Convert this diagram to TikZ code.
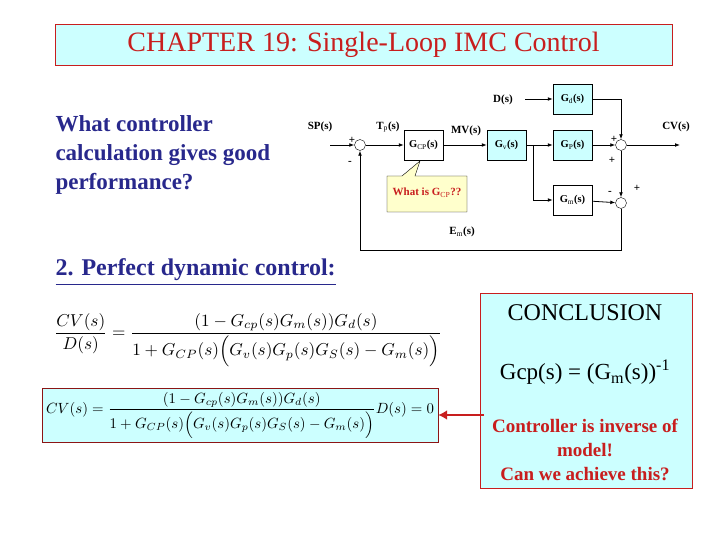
\documentclass[tikz,border=0pt]{standalone}
\usepackage{fontspec}
\setmainfont{Liberation Serif}
\usepackage{amsmath}
\usetikzlibrary{arrows.meta,positioning}
\definecolor{lcyan}{RGB}{204,255,255}
\definecolor{dred}{RGB}{200,30,30}
\definecolor{dblue}{RGB}{40,40,140}
\definecolor{lyel}{RGB}{255,255,204}
\tikzset{
  blk/.style={draw, minimum width=39pt, minimum height=30pt, inner sep=0pt, font=\fontsize{10.5}{12}\selectfont\bfseries},
  cblk/.style={blk, fill=lcyan},
  sumc/.style={draw, circle, minimum size=11pt, inner sep=0pt},
  lbl/.style={font=\fontsize{11}{12}\selectfont\bfseries},
  sig/.style={thick, -{Latex[length=5pt]}},
  wire/.style={thick}
}
\begin{document}
\begin{tikzpicture}[x=1pt,y=-1pt]
\useasboundingbox (0,0) rectangle (720,540);
% title
\node[draw=dred, fill=lcyan, minimum width=617pt, minimum height=41pt, text=dred,
  font=\fontsize{28}{30}\selectfont] (title) at (363.5,44.5) {CHAPTER 19: Single-Loop IMC Control};
\node[anchor=north west, align=left, text=dblue, font=\fontsize{23}{29}\selectfont\bfseries] (ask) at (52,112)
  {What controller\\calculation gives good\\performance?};
% block diagram
\node[sumc] (s1) at (360,145) {};
\node[blk] (gcp) at (423.5,145) {G$_{\mathrm{CP}}$(s)};
\node[cblk] (gv) at (506.5,145) {G$_{\mathrm v}$(s)};
\node[cblk] (gp) at (572.5,145) {G$_{\mathrm P}$(s)};
\node[cblk] (gd) at (572.5,99) {G$_{\mathrm d}$(s)};
\node[blk] (gm) at (572.5,200) {G$_{\mathrm m}$(s)};
\node[sumc] (s2) at (621,145) {};
\node[sumc] (s3) at (621,203) {};
\coordinate (spin) at (330,145);
\coordinate (din) at (525,99);
\coordinate (cvout) at (680,145);
\coordinate (br) at (533,145);
\coordinate (fb) at (621,250);
\draw[sig] (spin) -- (s1);
\draw[sig] (s1) -- (gcp);
\draw[sig] (gcp) -- (gv);
\draw[sig] (gv) -- (gp);
\draw[sig] (br) |- (gm);
\draw[sig] (din) -- (gd);
\draw[sig] (gd) -| (s2);
\draw[sig] (gp) -- (s2);
\draw[sig] (s2) -- (cvout);
\draw[sig] (s2) -- (s3);
\draw[sig] (gm) -- (s3);
\draw[sig] (s3) -- (fb) -| (s1);
\node[lbl] (sp) at (320,127) {SP(s)};
\node[lbl] (tp) at (388,127) {T$_{\mathrm p}$(s)};
\node[lbl] (mv) at (466,131) {MV(s)};
\node[lbl] (ds) at (503,100) {D(s)};
\node[lbl] (cv) at (676,127) {CV(s)};
\node[lbl] (em) at (462,232) {E$_{\mathrm m}$(s)};
\node[lbl] at (352,140) {+};
\node[lbl] at (350,163) {-};
\node[lbl] at (614,139) {+};
\node[lbl] at (612,160) {+};
\node[lbl] at (610,193) {-};
\node[lbl] at (637,188) {+};
% callout
\draw[fill=lyel] (387,176) -- (402,176) -- (420,161) -- (415,176) -- (467,176) -- (467,212) -- (387,212) -- cycle;
\node[lbl, text=dred] (what) at (427,193) {What is G$_{\mathrm{CP}}$??};
% lower part
\node[anchor=west, text=dblue, font=\fontsize{24}{26}\selectfont\bfseries] (perf) at (52,272) {\underline{2. Perfect dynamic control:}};
\node (eq1) at (248,340) {\scalebox{1.72}{$\dfrac{CV(s)}{D(s)}=\dfrac{(1-G_{cp}(s)G_m(s))G_d(s)}{1+G_{CP}(s)\Big(G_v(s)G_p(s)G_S(s)-G_m(s)\Big)}$}};
\node[draw=dred!70!black, fill=lcyan, minimum width=396pt, minimum height=54pt] (eq2) at (240,415) {};
\node (eq2t) at (240,415)
  {\scalebox{1.48}{$CV(s)=\dfrac{(1-G_{cp}(s)G_m(s))G_d(s)}{1+G_{CP}(s)\Big(G_v(s)G_p(s)G_S(s)-G_m(s)\Big)}D(s)=0$}};
\node[draw=dred, fill=lcyan, minimum width=212pt, minimum height=195pt] (concl) at (586,390.5) {};
\node[font=\fontsize{24}{26}\selectfont] (ctitle) at (585,313) {CONCLUSION};
\node[font=\fontsize{23}{26}\selectfont] (inv) at (585,372) {Gcp(s) = (G$_{\mathrm m}$(s))$^{\text{-1}}$};
\node[align=center, text=dred, font=\fontsize{19}{24}\selectfont\bfseries] (ctext) at (585,450)
  {Controller is inverse of\\model!\\Can we achieve this?};
\draw[dred, line width=2.5pt, -{Latex[length=9pt,width=10pt]}] (484,415) -- (eq2.east);
\end{tikzpicture}
\end{document}
